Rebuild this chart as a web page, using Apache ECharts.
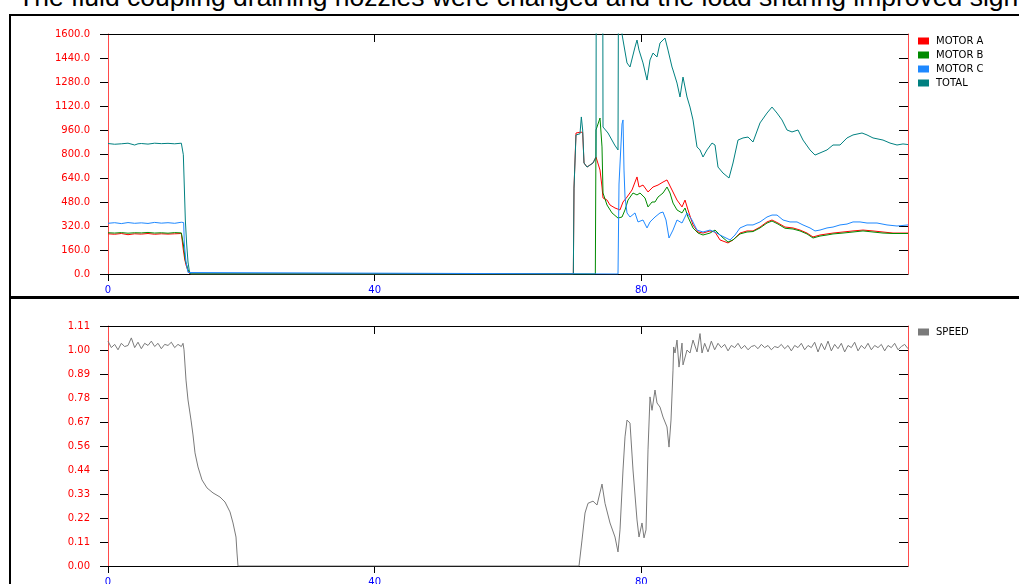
<!DOCTYPE html>
<html>
<head>
<meta charset="utf-8">
<script src="https://cdn.jsdelivr.net/npm/echarts@6/dist/echarts.min.js"></script>
<style>
  html, body { margin: 0; padding: 0; background: #fff; overflow: hidden; }
  #wrap { position: relative; width: 1019px; height: 584px; overflow: hidden; }
  #title { position: absolute; left: 18px; top: -16px; font: 26.5px "Liberation Sans", Arial, sans-serif; line-height: 26px; color: #000; white-space: nowrap; }
  #chart { position: absolute; left: 0; top: 0; width: 1019px; height: 584px; }
</style>
</head>
<body>
<div id="wrap">
  <div id="title">The fluid coupling draining nozzles were changed and the load sharing improved significantly</div>
  <div id="chart"></div>
</div>
<script>
// Motor loads [time, kW] and fan speed [time, per-unit]
const motorA = [[0,268],[1,265],[2,270],[3,262],[4,268],[5,266],[6,270],[7,265],[8,268],[9,266],[10,268],[11,270],[11.2,268],[11.3,160],[11.5,100],[11.7,60],[12.0,20],[12.3,0],
  [69.8,0],[69.9,573],[70.1,573],[70.2,940],[70.8,945],[71.0,950],[71.2,945],[71.4,740],[71.85,713],[72.75,740],[73.2,780],[73.5,780],[73.8,693],[74.1,580],[74.25,507],[74.85,493],[75.3,460],[76.05,440],[76.8,427],[77.25,480],[77.85,513],[78.6,560],[79.05,613],[79.35,647],[79.65,580],[80.25,593],[81.0,547],[81.75,580],[82.5,593],[83.25,613],[83.85,627],[84.6,560],[85.35,493],[86.1,447],[86.55,493],[87.0,427],[87.75,327],[88.5,280],[89.25,273],[89.55,260],[90.3,287],[91.05,280],[91.8,227],[93.0,207],[93.75,227],[94.8,273],[95.85,287],[96.75,287],[97.8,313],[98.85,347],[99.6,360],[100.5,340],[101.55,313],[102.75,307],[103.8,293],[104.85,273],[105.75,247],[106.8,260],[107.85,267],[108.75,273],[110.25,280],[111.75,287],[113.25,293],[114.75,287],[116.25,280],[117.75,273],[120,273]];
const motorB = [[0,275],[1,273],[2,276],[3,272],[4,275],[5,274],[6,277],[7,273],[8,275],[9,272],[10,276],[11,274],[11.25,274],[11.3,200],[11.6,90],[12.0,30],[12.4,0],
  [73.1,0],[73.2,960],[73.4,960],[73.8,1040],[74.1,847],[74.25,540],[74.85,460],[75.6,407],[76.5,373],[77.1,380],[77.55,427],[78.0,493],[78.75,540],[79.35,527],[79.8,540],[80.55,507],[81.0,447],[81.6,480],[82.05,480],[82.5,513],[83.25,540],[83.85,580],[84.3,540],[84.75,473],[85.35,427],[86.1,407],[86.55,440],[87.0,380],[87.75,307],[88.5,273],[89.25,260],[90.3,273],[91.05,293],[92.1,247],[93.0,213],[93.75,227],[94.8,267],[95.85,280],[96.75,283],[97.8,307],[98.85,340],[99.6,353],[100.5,333],[101.55,305],[102.75,300],[103.8,287],[104.85,267],[105.75,240],[106.8,253],[107.85,260],[108.75,267],[110.25,273],[111.75,280],[113.25,287],[114.75,280],[116.25,273],[117.75,270],[120,270]];
const motorC = [[0,338],[1,342],[2,336],[3,343],[4,338],[5,341],[6,337],[7,344],[8,339],[9,342],[10,338],[11,345],[11.35,343],[11.45,200],[11.7,80],[12.0,10],[12.2,0],
  [76.5,0],[76.65,600],[77.1,1000],[77.25,1027],[77.4,693],[77.55,513],[77.85,407],[78.3,380],[79.05,407],[79.5,347],[80.25,360],[80.85,307],[81.3,347],[82.05,380],[82.8,407],[83.25,413],[83.7,360],[84.15,240],[84.75,293],[85.35,360],[86.1,340],[86.85,407],[87.6,360],[88.35,293],[89.25,280],[90.3,293],[91.05,280],[91.8,260],[93.3,227],[94.05,260],[94.8,307],[95.85,327],[96.75,327],[97.8,347],[98.85,380],[99.6,393],[100.35,393],[101.25,360],[102.3,347],[103.35,347],[104.25,327],[105.3,307],[106.05,287],[106.8,293],[107.85,307],[108.75,313],[109.8,327],[110.85,333],[111.75,347],[112.8,347],[113.85,340],[115.35,340],[116.85,327],[118.35,320],[120,327]];
const total = [[0,870],[1,865],[2,868],[3,872],[4,860],[4.5,868],[5,870],[6,866],[7,872],[8,869],[9,871],[10,868],[11,872],[11.25,870],[11.3,795],[11.5,790],[11.6,360],[11.8,200],[12.0,80],[12.2,20],[12.4,0],
  [69.8,0],[69.9,573],[70.1,573],[70.2,927],[70.8,935],[71.0,1047],[71.2,960],[71.4,740],[71.85,713],[72.75,740],[73.2,780],[73.25,2400],[74.2,2400],[74.25,980],[75.0,940],[76.0,860],[76.5,827],[76.6,2400],[77.0,2400],[77.1,1600],[77.25,1560],[77.85,1407],[78.3,1380],[79.05,1513],[79.35,1560],[79.65,1493],[80.25,1407],[80.85,1293],[81.3,1427],[81.75,1473],[82.35,1447],[82.8,1540],[83.55,1573],[84.0,1493],[84.6,1380],[84.75,1360],[85.35,1273],[85.8,1180],[86.25,1313],[86.85,1180],[87.3,1113],[87.75,1027],[88.35,847],[88.8,827],[89.25,780],[89.85,827],[90.6,873],[91.05,860],[91.5,713],[92.25,673],[93.15,640],[93.75,740],[94.5,893],[95.25,907],[96.0,913],[96.75,880],[97.8,1007],[98.85,1073],[99.6,1113],[100.35,1073],[101.1,1027],[101.85,960],[102.6,947],[103.5,960],[104.25,893],[105.3,827],[106.05,793],[106.8,807],[107.85,827],[108.75,860],[109.8,860],[110.85,907],[111.75,927],[113.1,940],[113.85,927],[114.75,907],[116.25,893],[117.3,873],[118.35,860],[119.25,867],[120,863]];
const speed = [[0,1.04],[0.5,1.01],[1,1.025],[1.5,1.0],[2,1.03],[2.5,1.015],[3,1.02],[3.5,1.055],[4,1.01],[4.5,1.035],[5,1.005],[5.5,1.03],[6,1.02],[6.5,1.04],[7,1.015],[7.5,1.03],[8,1.005],[8.5,1.025],[9,1.02],[9.5,1.035],[10,1.01],[10.5,1.025],[11,1.015],[11.25,1.03],
  [11.4,1.0],[11.7,0.86],[12.0,0.768],[12.45,0.675],[12.75,0.606],[13.05,0.523],[13.5,0.458],[14.1,0.398],[14.85,0.361],[15.75,0.338],[16.8,0.319],[17.55,0.296],[18.3,0.25],[18.75,0.199],[19.2,0.134],[19.35,0.06],[19.5,0],
  [70.65,0],[71.1,0.12],[71.55,0.245],[72.0,0.29],[72.75,0.30],[73.35,0.282],[74.1,0.379],[74.55,0.29],[75.3,0.199],[76.05,0.134],[76.5,0.065],[76.8,0.167],[77.25,0.444],[77.55,0.597],[77.85,0.675],[78.3,0.661],[78.75,0.444],[79.35,0.213],[79.65,0.134],[80.1,0.199],[80.4,0.13],[80.7,0.167],[81.0,0.537],[81.3,0.782],[81.6,0.72],[82.05,0.814],[82.35,0.754],[82.8,0.735],[83.25,0.689],[83.85,0.643],[84.15,0.55],[84.45,0.675],[84.75,0.906],
  [84.85,1.013],[85.05,0.985],[85.35,1.045],[85.65,0.92],[86.1,1.031],[86.25,0.93],[86.85,0.999],[87.3,0.985],[87.75,1.045],[88.35,0.99],[88.8,1.075],[89.1,0.985],[89.5,1.03],
  [90,0.99],[90.5,1.04],[91,1.0],[91.5,1.03],[92,1.01],[92.5,1.025],[93,0.995],[93.5,1.02],[94,1.01],[94.5,1.03],[95,1.005],[95.5,1.02],[96,1.0],[96.5,1.015],[97,1.02],[97.5,1.005],[98,1.025],[98.5,1.01],[99,1.02],[99.5,1.0],[100,1.015],[100.5,1.01],[101,1.025],[101.5,1.005],[102,1.02],[102.5,0.995],[103,1.02],[103.5,1.01],[104,1.03],[104.5,1.0],[105,1.02],[105.5,1.01],[106,1.035],[106.5,0.99],[107,1.03],[107.5,1.0],[108,1.04],[108.5,0.995],[109,1.025],[109.5,1.005],[110,1.03],[110.5,0.99],[111,1.02],[111.5,1.01],[112,1.035],[112.5,0.995],[113,1.02],[113.5,1.005],[114,1.03],[114.5,1.0],[115,1.02],[115.5,1.01],[116,1.025],[116.5,0.995],[117,1.02],[117.5,1.01],[118,1.03],[118.5,1.0],[119,1.015],[119.5,1.025],[120,1.005]];

const xTicks = [0, 40, 80];
const speedTickLabels = ['0.00','0.11','0.22','0.33','0.44','0.56','0.67','0.78','0.89','1.00','1.11'];

const FONT = '"DejaVu Sans", sans-serif';
const RED_AXIS = '#ff4a4a';

function bottomX(gridIndex) {
  return {
    type: 'value', gridIndex, min: 0, max: 120, interval: 40, position: 'bottom',
    axisLine: { show: true, onZero: false, lineStyle: { color: '#000', width: 1 } },
    axisTick: { show: true, length: 7, lineStyle: { color: '#000' }, customValues: xTicks },
    axisLabel: { color: '#0000ff', fontFamily: FONT, fontSize: 10, margin: 11, customValues: xTicks },
    splitLine: { show: false }
  };
}
function topX(gridIndex) {
  return {
    type: 'value', gridIndex, min: 0, max: 120, interval: 40, position: 'top',
    axisLine: { show: true, onZero: false, lineStyle: { color: '#000', width: 1 } },
    axisTick: { show: true, inside: true, length: 8, lineStyle: { color: '#000' }, customValues: [40, 80] },
    axisLabel: { show: false }, splitLine: { show: false }
  };
}
function leftY(gridIndex, max, interval, fmt) {
  return {
    type: 'value', gridIndex, min: 0, max, interval, position: 'left',
    axisLine: { show: true, onZero: false, lineStyle: { color: RED_AXIS, width: 1 } },
    axisTick: { show: true, length: 8, lineStyle: { color: '#000' } },
    axisLabel: { color: '#ff0000', fontFamily: FONT, fontSize: 10, margin: 18, formatter: fmt },
    splitLine: { show: false }
  };
}
function rightY(gridIndex, max, interval) {
  return {
    type: 'value', gridIndex, min: 0, max, interval, position: 'right',
    axisLine: { show: true, onZero: false, lineStyle: { color: RED_AXIS, width: 1 } },
    axisTick: { show: true, inside: true, length: 9, lineStyle: { color: '#000' } },
    axisLabel: { show: false }, splitLine: { show: false }
  };
}
function line(name, data, color, xi, yi, z) {
  return {
    name, type: 'line', data, xAxisIndex: xi, yAxisIndex: yi, z,
    showSymbol: false, symbol: 'none', animation: false,
    lineStyle: { color, width: 1 }, itemStyle: { color }
  };
}

const chart = echarts.init(document.getElementById('chart'), null, { renderer: 'canvas' });
chart.setOption({
  animation: false,
  backgroundColor: 'transparent',
  grid: [
    { left: 108, top: 34, width: 800, height: 240, outerBoundsMode: 'none', containLabel: false },
    { left: 108, top: 326, width: 800, height: 240, outerBoundsMode: 'none', containLabel: false }
  ],
  xAxis: [bottomX(0), topX(0), bottomX(1), topX(1)],
  yAxis: [
    leftY(0, 1600, 160, v => v.toFixed(1)),
    rightY(0, 1600, 160),
    leftY(1, 1.11, 0.111, v => speedTickLabels[Math.round(v / 0.111)]),
    rightY(1, 1.11, 0.111)
  ],
  legend: [
    {
      data: ['MOTOR A', 'MOTOR B', 'MOTOR C', 'TOTAL'], orient: 'vertical', left: 918, top: 36,
      icon: 'rect', itemWidth: 11, itemHeight: 7, itemGap: 4, padding: 0, selectedMode: false,
      textStyle: { fontFamily: FONT, fontSize: 10, color: '#000', padding: [0, 0, 0, 2] }
    },
    {
      data: ['SPEED'], orient: 'vertical', left: 918, top: 327,
      icon: 'rect', itemWidth: 11, itemHeight: 7, padding: 0, selectedMode: false,
      textStyle: { fontFamily: FONT, fontSize: 10, color: '#000', padding: [0, 0, 0, 2] }
    }
  ],
  series: [
    line('MOTOR A', motorA, '#ff0000', 0, 0, 2),
    line('MOTOR B', motorB, '#008a00', 0, 0, 3),
    line('TOTAL', total, '#008080', 0, 0, 4),
    line('MOTOR C', motorC, '#1e88ff', 0, 0, 5),
    line('SPEED', speed, '#7a7a7a', 2, 2, 2)
  ],
  graphic: [
    { type: 'rect', shape: { x: 9, y: 14, width: 1020, height: 2 }, style: { fill: '#000' }, silent: true },
    { type: 'rect', shape: { x: 9, y: 14, width: 2, height: 580 }, style: { fill: '#000' }, silent: true },
    { type: 'rect', shape: { x: 9, y: 296, width: 1020, height: 3 }, style: { fill: '#000' }, silent: true }
  ]
});
</script>
</body>
</html>
